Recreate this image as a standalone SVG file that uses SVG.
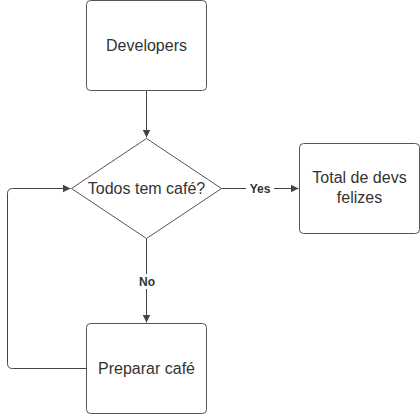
<svg xmlns="http://www.w3.org/2000/svg" width="420" height="414" viewBox="0 0 420 414">
<style>
.n{fill:#fff;stroke:#555;stroke-width:1}
.t{font-family:"Liberation Sans",Arial,sans-serif;font-size:16px;fill:#333;text-anchor:middle}
.c{fill:none;stroke:#444;stroke-width:1}
.l{font-family:"Liberation Sans",Arial,sans-serif;font-size:12px;font-weight:bold;fill:#333;text-anchor:middle}
</style>
<defs>
<marker id="a" viewBox="0 0 10 10" refX="10" refY="5" markerWidth="8" markerHeight="8" markerUnits="userSpaceOnUse" orient="auto">
<path d="M0,0 L10,5 L0,10 z" fill="#444"/>
</marker>
</defs>
<rect width="420" height="414" fill="#fff"/>
<g id="connectors">
<path class="c" d="M146.5,90.5 V137.5" marker-end="url(#a)"/>
<path class="c" d="M221.5,188.5 H298.5" marker-end="url(#a)"/>
<rect x="246" y="181" width="28" height="14" fill="#fff"/>
<text class="l" x="260" y="192.5">Yes</text>
<path class="c" d="M146.5,238.5 V322.5" marker-end="url(#a)"/>
<rect x="136" y="274" width="22" height="15" fill="#fff"/>
<text class="l" x="147" y="286">No</text>
<path class="c" d="M86.5,368.5 H12.5 Q7.5,368.5 7.5,363.5 V193.5 Q7.5,188.5 12.5,188.5 H70.5" marker-end="url(#a)"/>
</g>
<g id="developers">
<rect class="n" x="86.5" y="0.5" width="120" height="90" rx="4"/>
<text class="t" x="146.5" y="51">Developers</text>
</g>
<g id="decision">
<path class="n" d="M146.5,138.5 L221.5,188.5 L146.5,238.5 L71.5,188.5 Z"/>
<text class="t" x="146.5" y="194">Todos tem café?</text>
</g>
<g id="total">
<rect class="n" x="299.5" y="143.5" width="120" height="90" rx="4"/>
<text class="t" x="359.5" y="183">Total de devs</text>
<text class="t" x="359.5" y="203">felizes</text>
</g>
<g id="preparar">
<rect class="n" x="86.5" y="323.5" width="120" height="90" rx="4"/>
<text class="t" x="146.5" y="374">Preparar café</text>
</g>
</svg>
